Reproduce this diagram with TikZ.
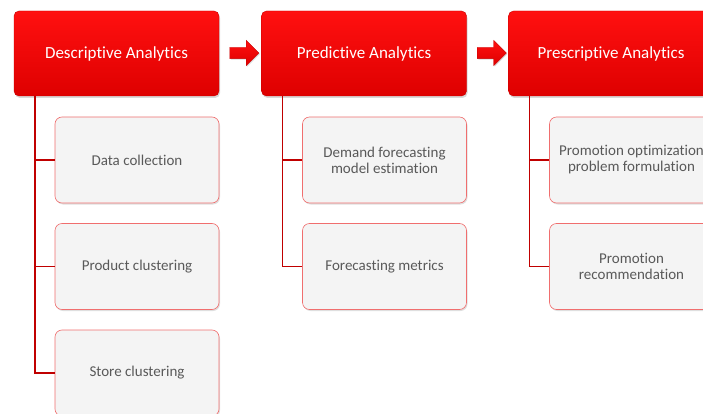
\documentclass[tikz,border=0pt]{standalone}
\usepackage{fontspec}
\setmainfont{Carlito}[Ligatures=NoCommon]
\usetikzlibrary{shapes.arrows}
\usetikzlibrary{shadows}
\usetikzlibrary{positioning}

\definecolor{headtop}{RGB}{255,16,16}
\definecolor{headbot}{RGB}{222,0,0}
\definecolor{headline}{RGB}{200,0,0}
\definecolor{taskfill}{RGB}{244,244,244}
\definecolor{taskline}{RGB}{240,110,110}
\definecolor{tasktext}{RGB}{89,89,89}
\definecolor{linkred}{RGB}{192,0,0}

\begin{document}
\begin{tikzpicture}[x=1pt,y=-1pt,
  head/.style={rectangle,rounded corners=5pt,minimum width=205pt,minimum height=85pt,
    top color=headtop,bottom color=headbot,draw=headline,line width=.4pt,
    text=white,font=\fontsize{17}{20}\selectfont,
    drop shadow={opacity=.3,shadow xshift=1pt,shadow yshift=-2pt}},
  task/.style={rectangle,rounded corners=7pt,minimum width=164pt,minimum height=86pt,
    fill=taskfill,draw=taskline,line width=.6pt,text=tasktext,align=center,
    font=\fontsize{15}{16}\selectfont,
    drop shadow={opacity=.25,shadow xshift=1pt,shadow yshift=-1.5pt}},
  flow/.style={single arrow,single arrow head extend=7pt,minimum height=29pt,
    inner xsep=0pt,inner ysep=5.5pt,top color=headtop,bottom color=headbot,
    draw=headline,line width=.3pt,
    drop shadow={opacity=.3,shadow xshift=1pt,shadow yshift=-1pt}},
  link/.style={draw=linkred,line width=1.6pt}]

\useasboundingbox (0,0) rectangle (703,414);

% phases
\node[head] (desc) at (116.5,53.5) {Descriptive Analytics};
\node[head] (pred) at (364,53.5) {Predictive Analytics};
\node[head] (pres) at (611,53.5) {Prescriptive Analytics};

\node[flow] (go1) at (241.5,53) {};
\node[flow] (go2) at (489,53) {};

% tasks
\node[task] (collect) at (137,160) {Data collection};
\node[task] (prodclu) at (137,266.5) {Product clustering};
\node[task] (storeclu) at (137,373) {Store clustering};

\node[task] (demand) at (384.5,160) {Demand forecasting\\model estimation};
\node[task] (metrics) at (384.5,266.5) {Forecasting metrics};

\node[task] (promopt) at (631.5,160) {Promotion optimization\\problem formulation};
\node[task] (promrec) at (631.5,266.5) {Promotion\\recommendation};

% links
\foreach \t in {collect,prodclu,storeclu}
    \draw[link] ([xshift=21pt]desc.south west) |- (\t.west);
\foreach \t in {demand,metrics}
    \draw[link] ([xshift=21pt]pred.south west) |- (\t.west);
\foreach \t in {promopt,promrec}
    \draw[link] ([xshift=21pt]pres.south west) |- (\t.west);

\end{tikzpicture}
\end{document}
